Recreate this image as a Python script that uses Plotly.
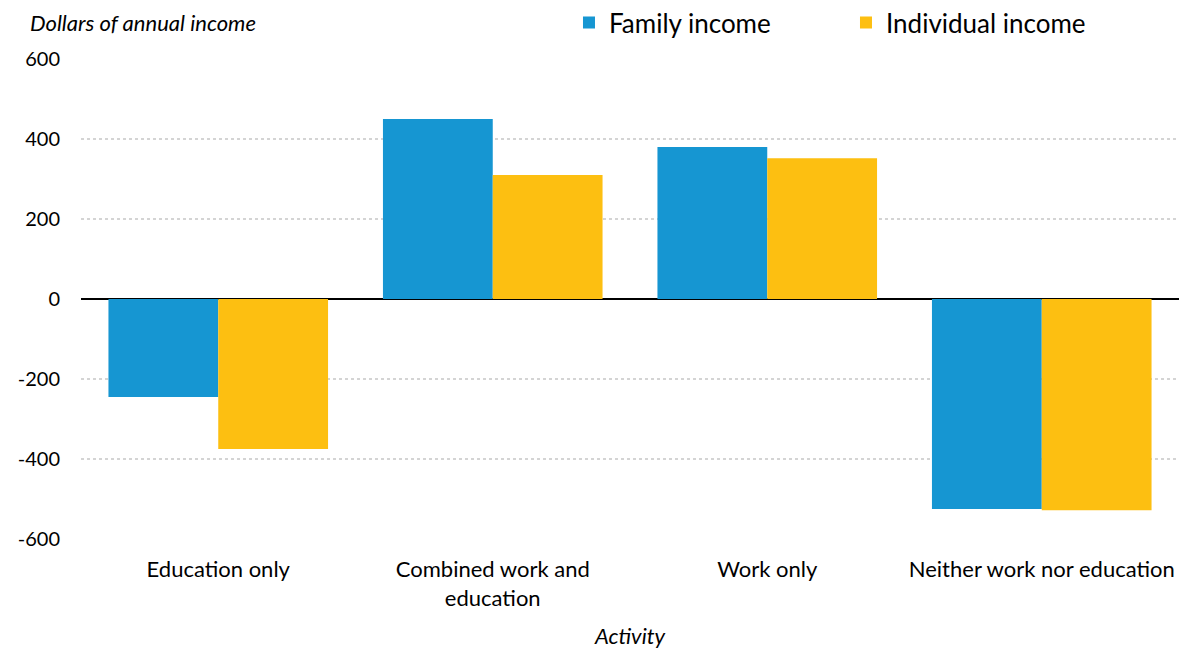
import plotly.graph_objects as go

# Change in annual income by activity
categories = ["Education only", "Combined work and<br>education", "Work only", "Neither work nor education"]
family_income = [-245, 450, 380, -525]
individual_income = [-375, 310, 352, -528]

tick_vals = [-600, -400, -200, 0, 200, 400, 600]
tick_text = ["-600", "-400", "-200", "0", "200", "400", "600"]

FONT = "Lato, 'Open Sans', sans-serif"
BLUE = "#1696d2"
GOLD = "#fdbf11"

fig = go.Figure()
fig.add_trace(go.Bar(name="Family income", x=categories, y=family_income,
                     marker=dict(color=BLUE, line=dict(width=0))))
fig.add_trace(go.Bar(name="Individual income", x=categories, y=individual_income,
                     marker=dict(color=GOLD, line=dict(width=0))))

fig.update_layout(
    width=1179, height=649,
    margin=dict(l=81, r=0, t=59, b=110, autoexpand=False),
    paper_bgcolor="white", plot_bgcolor="white",
    barmode="group", bargap=0.2, bargroupgap=0,
    font=dict(family=FONT, size=20, color="#000000"),
    legend=dict(orientation="h", xref="container", yref="container",
                x=0.4826, xanchor="left", y=0.965, yanchor="middle",
                font=dict(size=26, family=FONT), entrywidth=232, entrywidthmode="pixels",
                itemsizing="constant", traceorder="normal", bgcolor="rgba(0,0,0,0)"),
    xaxis=dict(showgrid=False, showline=False, ticks="", tickfont=dict(size=22),
               ticklabelstandoff=15,
               title=dict(text="<i>Activity</i>", font=dict(size=22), standoff=20)),
    yaxis=dict(range=[-600, 600], tickvals=tick_vals, ticktext=tick_text,
               showgrid=True, gridcolor="#d4d4d4", griddash="dot", gridwidth=2,
               zeroline=True, zerolinecolor="#000000", zerolinewidth=2,
               showline=False, ticks="", ticklabelstandoff=20, tickfont=dict(size=20)),
    annotations=[dict(text="<i>Dollars of annual income</i>", xref="paper", yref="paper",
                      x=-0.0483, y=1.077, xanchor="left", yanchor="middle", showarrow=False,
                      font=dict(size=22, family=FONT))],
)

fig.write_html("out.html")
